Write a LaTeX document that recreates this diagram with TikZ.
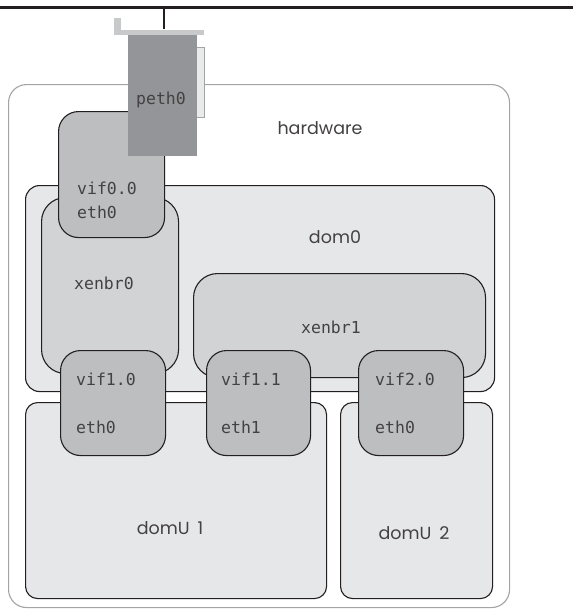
\documentclass[tikz,border=0pt]{standalone}
\usepackage{fontspec}
\setmainfont{Poppins}
\newfontfamily\codefont{DejaVu Sans Mono}
\definecolor{hwline}{HTML}{A2A4A6}
\definecolor{domfill}{HTML}{E6E7E8}
\definecolor{brfill}{HTML}{D1D3D4}
\definecolor{viffill}{HTML}{BCBEC0}
\definecolor{pethfill}{HTML}{939598}
\definecolor{nicfill}{HTML}{C8C9CA}
\definecolor{sidefill}{HTML}{E9EAEA}
\definecolor{edge}{HTML}{231F20}
\tikzset{
  px/.style={x=1pt,y=-1pt},
  region/.style={rectangle, anchor=north west, inner sep=0pt, line width=1.1pt},
  hwbox/.style={region, draw=hwline, fill=white, rounded corners=18pt},
  dombox/.style={region, draw=edge, fill=domfill, rounded corners=14pt},
  bridgebox/.style={region, draw=edge, fill=brfill, rounded corners=24pt},
  vifbox/.style={region, draw=edge, fill=viffill, rounded corners=20pt},
  plainbox/.style={region, draw=none},
  codelabel/.style={font=\codefont\fontsize{16.5}{18}\selectfont, text=edge!85, inner sep=0pt},
  namelabel/.style={font=\fontsize{17.5}{20}\selectfont, text=edge!85, inner sep=0pt},
  wire/.style={line width=3pt, draw=edge},
}
\newcommand{\wsp}{\hspace{0.45em}}
\begin{document}
\begin{tikzpicture}[px]
\useasboundingbox (0,0) rectangle (573,614);

% physical network segment
\coordinate (lanL) at (0,7);
\coordinate (lanR) at (573,7);
\draw[wire] (lanL) -- (lanR);

% hardware frame
\node[hwbox, minimum width=501pt, minimum height=523pt] (hw) at (8,84) {};
\node[namelabel] (hwtxt) at (320,128) {hardware};

% dom0 and its bridges
\node[dombox, minimum width=469pt, minimum height=206pt] (dom0) at (25,185) {};
\node[namelabel] (dom0txt) at (335,237) {dom0};
\node[bridgebox, minimum width=137pt, minimum height=176pt] (xenbr0) at (41,197) {};
\node[codelabel] (xenbr0txt) at (104,283) {xenbr0};
\node[bridgebox, minimum width=292pt, minimum height=104pt] (xenbr1) at (193,273) {};
\node[codelabel] (xenbr1txt) at (331,327) {xenbr1};

% guest domains
\node[dombox, rounded corners=12pt, minimum width=301pt, minimum height=196pt] (domU1) at (25,402) {};
\node[namelabel] (domU1txt) at (170,528) {domU\wsp 1};
\node[dombox, rounded corners=12pt, minimum width=152pt, minimum height=196pt] (domU2) at (340,402) {};
\node[namelabel] (domU2txt) at (414,533) {domU\wsp 2};

% virtual interface pairs
\node[vifbox, minimum width=105pt, minimum height=105pt] (vif10) at (60,350) {};
\node[codelabel, anchor=west] (vif10a) at (76,379) {vif1.0};
\node[codelabel, anchor=west] (vif10b) at (76,427) {eth0};
\node[vifbox, minimum width=104pt, minimum height=105pt] (vif11) at (206,350) {};
\node[codelabel, anchor=west] (vif11a) at (221,379) {vif1.1};
\node[codelabel, anchor=west] (vif11b) at (221,427) {eth1};
\node[vifbox, minimum width=105pt, minimum height=105pt] (vif20) at (358,350) {};
\node[codelabel, anchor=west] (vif20a) at (375,379) {vif2.0};
\node[codelabel, anchor=west] (vif20b) at (375,427) {eth0};

\node[vifbox, minimum width=106pt, minimum height=126pt] (vif00) at (58,111) {};
\node[codelabel, anchor=west] (vif00a) at (77,188) {vif0.0};
\node[codelabel, anchor=west] (vif00b) at (77,212) {eth0};

% physical network card
\node[plainbox, fill=sidefill, draw=hwline, line width=1pt, minimum width=8pt, minimum height=70pt] (side) at (196,47) {};
\node[plainbox, fill=nicfill, minimum width=90pt, minimum height=5pt] (nicbar) at (113,29) {};
\node[plainbox, fill=nicfill, minimum width=7pt, minimum height=13pt] (nictab) at (113,17) {};
\node[plainbox, fill=pethfill, minimum width=69pt, minimum height=121pt] (peth0) at (127,34) {};
\node[codelabel] (peth0txt) at (161,100) {peth0};

% uplink from the card to the segment
\coordinate (tap) at (164,7);
\draw[wire, line width=2.4pt] (tap) -- (nicbar.north -| tap);
\end{tikzpicture}
\end{document}
